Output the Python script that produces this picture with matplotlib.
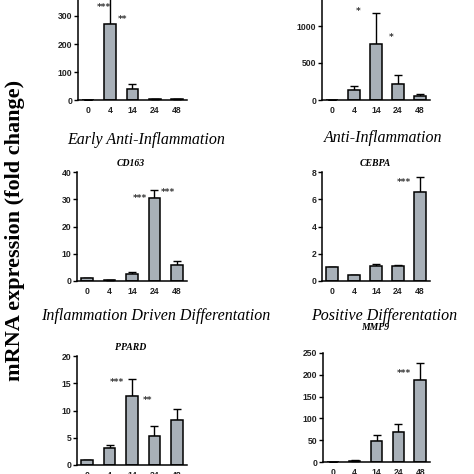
import numpy as np
import matplotlib.pyplot as plt

# time points (h)
timepoints = ['0', '4', '14', '24', '48']

# bar means and upper error (mean + SEM) per gene
il10_mean = [1, 272, 40, 2, 3]
il10_top = [1, 395, 57, 3, 5]
il10_stars = [(0.71, 329, '***'), (1.56, 289, '**')]

tgfb_mean = [0, 140, 760, 220, 55]
tgfb_top = [0, 190, 1180, 340, 80]
tgfb_stars = [(1.18, 1190, '*'), (2.68, 850, '*')]

cd163_mean = [1.0, 0.3, 2.5, 30.3, 5.7]
cd163_top = [1.0, 0.4, 3.2, 33.5, 7.5]
cd163_stars = [(2.37, 30.3, '***'), (3.6, 32.5, '***')]

cebpa_mean = [1.0, 0.45, 1.12, 1.08, 6.55]
cebpa_top = [1.0, 0.45, 1.22, 1.2, 7.65]
cebpa_stars = [(3.27, 7.2, '***')]

ppard_mean = [1.0, 3.1, 12.7, 5.4, 8.3]
ppard_top = [1.0, 3.7, 15.7, 7.2, 10.2]
ppard_stars = [(1.34, 15.2, '***'), (2.68, 11.9, '**')]

mmp9_mean = [0, 2, 48, 68, 187]
mmp9_top = [0, 4, 62, 88, 227]
mmp9_stars = [(3.27, 204, '***')]

W = H = 474.0
BAR = '#a8b0b8'


def px_axes(fig, x0, x1, ytop, ybot):
    return fig.add_axes([x0 / W, 1 - ybot / H, (x1 - x0) / W, (ybot - ytop) / H])


def panel(fig, box, mean, top, ymax, yticks, stars, title=None, title_y=None):
    ax = px_axes(fig, *box)
    x = np.arange(len(timepoints))
    mean = np.array(mean, dtype=float)
    err = np.array(top, dtype=float) - mean
    ax.bar(x, mean, width=0.52, color=BAR, edgecolor='black', linewidth=1.1, zorder=2)
    ax.errorbar(x, mean, yerr=[np.zeros_like(err), err], fmt='none',
                ecolor='black', elinewidth=1.0, capsize=3, capthick=1.0, zorder=1)
    ax.set_xlim(-0.45, 4.45)
    ax.set_ylim(0, ymax)
    ax.set_yticks(yticks)
    ax.set_xticks(x)
    ax.set_xticklabels(timepoints)
    for s in ['top', 'right']:
        ax.spines[s].set_visible(False)
    for s in ['left', 'bottom']:
        ax.spines[s].set_linewidth(1.1)
    ax.tick_params(axis='x', length=0, pad=4)
    ax.tick_params(axis='y', length=3, width=1.0, pad=1)
    for lab in ax.get_xticklabels() + ax.get_yticklabels():
        lab.set_fontfamily('Liberation Sans')
        lab.set_fontweight('bold')
        lab.set_fontsize(6.2)
        lab.set_color('#222222')
    for sx, sy, txt in stars:
        ax.text(sx, sy, txt, ha='center', va='center', fontsize=6.5,
                fontweight='bold', color='#333333')
    if title:
        cx = (box[0] + box[1]) / 2 - 1
        fig.text(cx / W, 1 - title_y / H, title, ha='center', va='center',
                 fontsize=7, fontweight='bold', style='italic',
                 family='Liberation Serif')
    return ax


fig = plt.figure(figsize=(4.74, 4.74), dpi=100)

panel(fig, (78, 187, -12, 100), il10_mean, il10_top, 400, [0, 100, 200, 300], il10_stars)
panel(fig, (322, 430, -11, 100), tgfb_mean, tgfb_top, 1500, [0, 500, 1000], tgfb_stars)
panel(fig, (77, 187, 172, 281), cd163_mean, cd163_top, 40, [0, 10, 20, 30, 40],
      cd163_stars, 'CD163', 163)
panel(fig, (322, 430, 172, 281), cebpa_mean, cebpa_top, 8, [0, 2, 4, 6, 8],
      cebpa_stars, 'CEBPA', 163)
panel(fig, (77, 187, 356, 465), ppard_mean, ppard_top, 20, [0, 5, 10, 15, 20],
      ppard_stars, 'PPARD', 347)
panel(fig, (323, 430, 353, 462), mmp9_mean, mmp9_top, 250, [0, 50, 100, 150, 200, 250],
      mmp9_stars, 'MMP9', 328)

group_font = dict(fontsize=11.5, style='italic', family='Liberation Serif', ha='center', va='center')
fig.text(146 / W, 1 - 140 / H, 'Early Anti-Inflammation', **group_font)
fig.text(383 / W, 1 - 138 / H, 'Anti-Inflammation', **group_font)
fig.text(156 / W, 1 - 316 / H, 'Inflammation Driven Differentation', **group_font)
fig.text(384 / W, 1 - 316 / H, 'Positive Differentation', **group_font)

fig.text(15 / W, 1 - 230 / H, 'mRNA expression (fold change)', rotation=90,
         ha='center', va='center', fontsize=16, fontweight='bold', family='Liberation Serif')

fig.savefig('out.png', dpi=100)
